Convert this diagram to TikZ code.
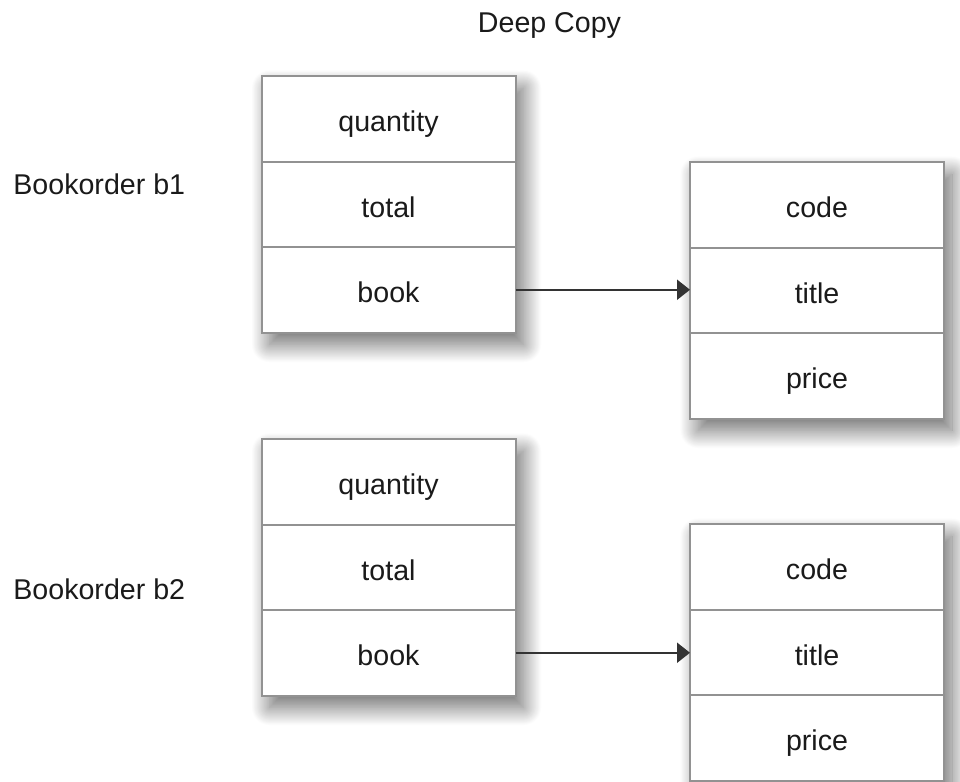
\documentclass[tikz,border=0pt]{standalone}
\usepackage{fontspec}
\setmainfont{Liberation Sans}
\usetikzlibrary{arrows.meta,shadows.blur}
\definecolor{inkc}{HTML}{1A1A1A}
\definecolor{cellline}{HTML}{929292}
\definecolor{linkc}{HTML}{333333}
\begin{document}
\begin{tikzpicture}[x=0.5pt,y=-0.5pt,
  textfont/.style={font=\fontsize{14.3}{17}\selectfont, text=inkc},
  backing/.style={fill=white, draw=none, inner sep=0pt, outer sep=0pt, anchor=north,
    minimum width=127pt, minimum height=128.25pt,
    blur shadow={shadow xshift=4pt, shadow yshift=-6pt,
      shadow blur radius=9pt, shadow blur steps=40, shadow opacity=58}},
  cell/.style={textfont, draw=cellline, line width=1pt, fill=none,
    minimum width=127pt, minimum height=42.75pt, inner sep=0pt, outer sep=0pt,
    text height=14pt, text depth=1pt, anchor=north},
  caption/.style={textfont, inner sep=0pt},
  link/.style={draw=linkc, line width=1.1pt, -{Triangle[length=6.5pt,width=10pt]}}]

\useasboundingbox (0,0) rectangle (960,782);

\node[caption, anchor=base] (title) at (549.5,32) {Deep Copy};
\node[caption, anchor=base west] (lab1) at (13,194) {Bookorder b1};
\node[caption, anchor=base west] (lab2) at (13,599) {Bookorder b2};

% white record bodies with their soft shadows
\node[backing] (sh1) at (388.5,76) {};
\node[backing] (sh2) at (817,162) {};
\node[backing] (sh3) at (388.5,439) {};
\node[backing] (sh4) at (817,524) {};

% Bookorder b1
\node[cell] (q1) at (388.5,76) {quantity};
\node[cell] (t1) at (q1.south) {total};
\node[cell] (b1) at (t1.south) {book};

% book referenced by b1
\node[cell] (c2) at (817,162) {code};
\node[cell] (ti2) at (c2.south) {title};
\node[cell] (p2) at (ti2.south) {price};

% Bookorder b2
\node[cell] (q3) at (388.5,439) {quantity};
\node[cell] (t3) at (q3.south) {total};
\node[cell] (b3) at (t3.south) {book};

% book referenced by b2
\node[cell] (c4) at (817,524) {code};
\node[cell] (ti4) at (c4.south) {title};
\node[cell] (p4) at (ti4.south) {price};

\draw[link] (b1.east) -- (b1.east -| ti2.west);
\draw[link] (b3.east) -- (b3.east -| ti4.west);
\end{tikzpicture}
\end{document}
